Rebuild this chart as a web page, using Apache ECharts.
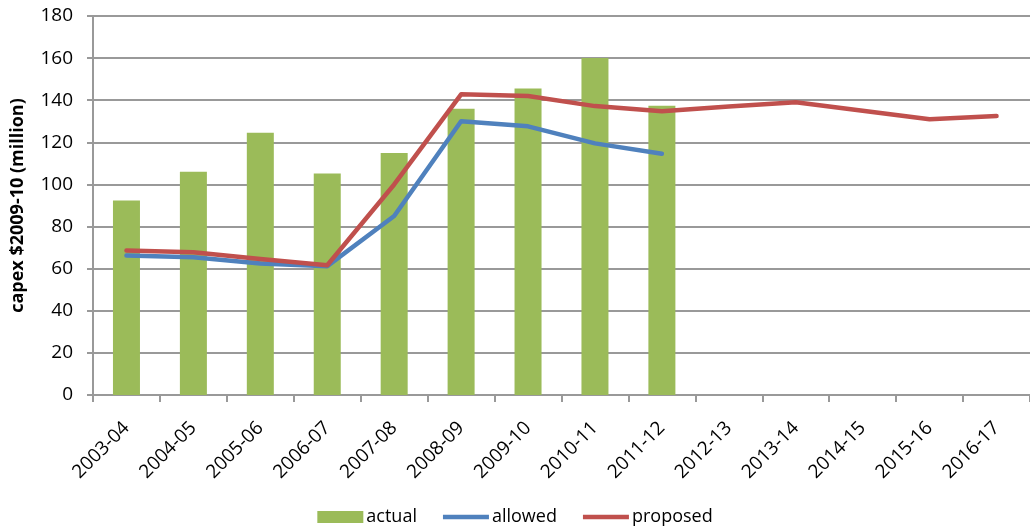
<!DOCTYPE html>
<html>
<head>
<meta charset="utf-8">
<script src="https://cdn.jsdelivr.net/npm/echarts@6/dist/echarts.min.js"></script>
<style>html,body{margin:0;padding:0;background:#fff}#c{width:1030px;height:531px}</style>
</head>
<body>
<div id="c"></div>
<script>
const categories = ['2003-04','2004-05','2005-06','2006-07','2007-08','2008-09','2009-10','2010-11','2011-12','2012-13','2013-14','2014-15','2015-16','2016-17'];
const actual = [92.4, 106, 124.6, 105.2, 114.9, 136, 145.6, 160, 137.4, null, null, null, null, null];
const allowed = [66.2, 65.4, 62.4, 61.2, 85, 130, 127.6, 119.5, 114.6, null, null, null, null, null];
const proposed = [68.6, 67.8, 64.6, 61.6, 100, 142.8, 142, 137.2, 134.8, 137, 139, 135, 131, 132.5];
const yTicks = {min: 0, max: 180, interval: 20};

const FONT = '"Open Sans", "Liberation Sans", sans-serif';
const chart = echarts.init(document.getElementById('c'), null, {renderer: 'canvas'});
chart.setOption({
  animation: false,
  grid: {left: 93, right: 0, top: 16, bottom: 136, containLabel: false},
  legend: {
    bottom: 0, left: 'center',
    itemWidth: 46, itemHeight: 12, itemGap: 26,
    textStyle: {fontFamily: FONT, fontSize: 18, color: '#000', padding: [0,0,0,-2]},
    data: [
      {name: 'actual', icon: 'rect'},
      {name: 'allowed', icon: 'path://M0,4 L46,4 L46,8.5 L0,8.5 Z'},
      {name: 'proposed', icon: 'path://M0,4 L46,4 L46,8.5 L0,8.5 Z'}
    ]
  },
  xAxis: {
    type: 'category', data: categories, boundaryGap: true,
    axisLine: {lineStyle: {color: '#999', width: 2}},
    axisTick: {show: true, length: 7, lineStyle: {color: '#999', width: 2}, alignWithLabel: false},
    axisLabel: {rotate: 45, interval: 0, fontFamily: FONT, fontSize: 19, color: '#000', margin: 30}
  },
  yAxis: {
    type: 'value', min: yTicks.min, max: yTicks.max, interval: yTicks.interval,
    name: 'capex $2009-10 (million)', nameLocation: 'middle', nameGap: 66,
    nameTextStyle: {fontFamily: FONT, fontSize: 18, fontWeight: 'bold', color: '#000'},
    axisLine: {show: true, lineStyle: {color: '#999', width: 2}},
    axisTick: {show: true, length: 6, lineStyle: {color: '#999', width: 2}},
    axisLabel: {fontFamily: FONT, fontSize: 19, color: '#000', margin: 20},
    splitLine: {lineStyle: {color: '#999', width: 2}}
  },
  series: [
    {name: 'actual', type: 'bar', data: actual, barWidth: 27, itemStyle: {color: '#9BBB59'}},
    {name: 'allowed', type: 'line', data: allowed, symbol: 'none', connectNulls: false,
     lineStyle: {color: '#4F81BD', width: 4.5, cap: 'round', join: 'round'}, itemStyle: {color: '#4F81BD'}},
    {name: 'proposed', type: 'line', data: proposed, symbol: 'none',
     lineStyle: {color: '#C0504D', width: 4.5, cap: 'round', join: 'round'}, itemStyle: {color: '#C0504D'}}
  ]
});
</script>
</body>
</html>
